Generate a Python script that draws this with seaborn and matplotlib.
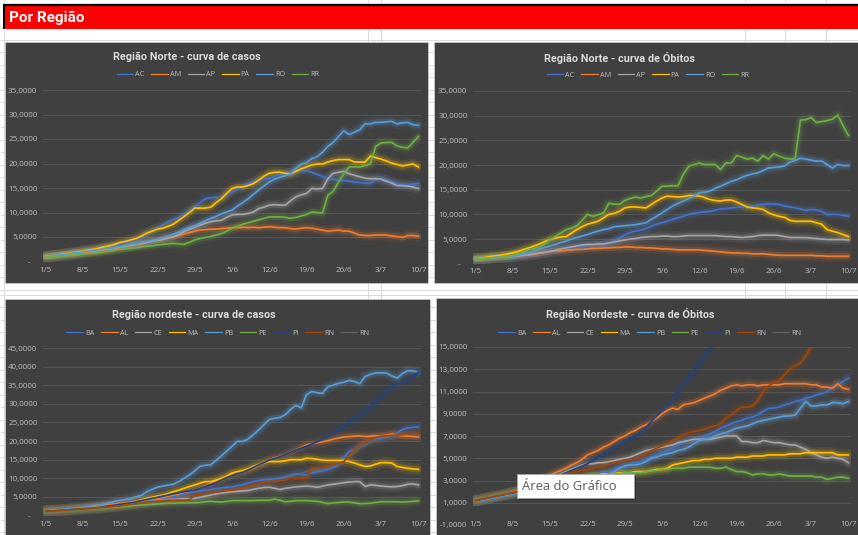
import matplotlib
matplotlib.use("Agg")
import matplotlib.pyplot as plt
import numpy as np
import pandas as pd
import seaborn as sns
from matplotlib.lines import Line2D
from matplotlib.patches import Rectangle
from matplotlib.ticker import FuncFormatter

W, H = 858, 535
TITLE_FONT = ['Roboto', 'Open Sans', 'DejaVu Sans']
SANS = ['Open Sans', 'DejaVu Sans']

DAYS = list(range(71))
TICK_POS = [0, 7, 14, 21, 28, 35, 42, 49, 56, 63, 70]
TICK_LABELS = ['1/5', '8/5', '15/5', '22/5', '29/5', '5/6', '12/6', '19/6', '26/6', '3/7', '10/7']

# ---------------- Região Norte - casos ----------------
N_CASOS_AC = [1.0, 1.1, 1.2, 1.4, 1.5, 1.7, 1.8, 2.0, 2.2, 2.4, 2.6, 2.8, 3.0, 3.2,
              3.5, 3.8, 4.1, 4.5, 5.0, 5.6, 6.2, 6.8, 7.5, 8.1, 8.6, 9.0, 9.7, 10.4,
              11.1, 12.0, 12.8, 13.0, 13.1, 13.0, 13.6, 14.2, 14.7, 15.3, 15.9, 16.3, 16.6, 16.8,
              16.9, 17.4, 17.8, 18.2, 18.3, 18.4, 18.5, 18.5, 18.2, 17.8, 17.3, 16.9, 16.8, 16.6,
              16.5, 16.4, 16.2, 16.1, 16.0, 15.9, 16.8, 16.8, 16.7, 16.3, 15.9, 15.5, 15.6, 15.8, 15.9]
N_CASOS_AM = [1.0, 1.1, 1.2, 1.3, 1.4, 1.5, 1.7, 1.8, 1.9, 2.0, 2.2, 2.3, 2.5, 2.6,
              2.8, 3.0, 3.2, 3.4, 3.6, 3.9, 4.2, 4.4, 4.6, 4.8, 5.1, 5.3, 5.6, 5.9,
              6.2, 6.4, 6.5, 6.6, 6.6, 6.7, 6.8, 6.9, 6.9, 7.0, 6.9, 7.0, 6.9, 7.0,
              7.1, 7.0, 6.9, 6.9, 6.7, 6.6, 6.8, 6.9, 6.8, 6.6, 6.4, 6.2, 6.3, 6.4,
              6.2, 6.2, 5.8, 5.4, 5.3, 5.3, 5.4, 5.4, 5.4, 5.2, 5.1, 4.9, 5.3, 5.3, 5.2]
N_CASOS_AP = [1.0, 1.1, 1.2, 1.3, 1.5, 1.6, 1.8, 2.0, 2.1, 2.2, 2.4, 2.5, 2.7, 2.8,
              3.0, 3.1, 3.3, 3.5, 3.7, 3.9, 4.1, 4.3, 4.5, 4.8, 5.0, 5.5, 6.1, 6.6,
              7.0, 7.4, 7.8, 8.1, 8.3, 8.4, 9.0, 9.5, 9.6, 9.6, 9.8, 10.1, 10.8, 11.1,
              11.5, 11.6, 11.5, 11.5, 12.4, 13.2, 13.6, 13.9, 14.9, 14.8, 14.9, 16.9, 18.0, 18.2,
              18.4, 17.9, 17.6, 17.3, 17.0, 16.9, 16.9, 16.8, 16.4, 16.0, 15.5, 15.5, 15.4, 15.2, 14.9]
N_CASOS_PA = [1.0, 1.1, 1.3, 1.5, 1.6, 1.8, 1.9, 2.1, 2.3, 2.5, 2.7, 3.0, 3.2, 3.5,
              3.9, 4.1, 4.4, 4.7, 5.2, 5.8, 6.2, 6.6, 6.8, 7.2, 7.6, 8.4, 9.2, 10.0,
              10.9, 10.9, 10.9, 11.1, 12.0, 12.8, 13.9, 14.9, 15.2, 15.2, 15.5, 15.9, 16.6, 17.4,
              18.0, 18.2, 18.2, 18.0, 17.9, 18.4, 18.9, 19.3, 19.7, 19.9, 19.9, 20.3, 20.6, 20.8,
              20.8, 20.8, 20.3, 20.3, 20.3, 21.5, 21.2, 20.9, 20.5, 20.1, 19.8, 19.5, 19.7, 19.9, 19.3]
N_CASOS_RO = [1.0, 1.1, 1.3, 1.4, 1.5, 1.7, 1.8, 2.0, 2.1, 2.3, 2.4, 2.6, 2.7, 2.9,
              3.0, 3.2, 3.4, 3.6, 3.9, 4.1, 4.3, 4.5, 4.8, 5.2, 5.6, 6.0, 6.5, 6.9,
              7.3, 7.8, 8.3, 8.8, 9.2, 9.7, 10.1, 10.5, 11.3, 12.0, 12.8, 13.7, 14.6, 15.4,
              16.2, 16.8, 17.2, 17.5, 17.9, 19.0, 19.9, 20.2, 21.0, 21.4, 22.3, 23.5, 24.3, 25.5,
              26.7, 25.9, 26.4, 26.9, 28.1, 28.1, 28.4, 28.4, 28.5, 28.6, 28.1, 28.3, 28.4, 27.9, 27.8]
N_CASOS_RR = [1.0, 1.0, 1.1, 1.2, 1.2, 1.3, 1.4, 1.5, 1.6, 1.7, 1.8, 2.0, 2.1, 2.3,
              2.5, 2.6, 2.7, 2.8, 3.0, 3.1, 3.2, 3.4, 3.5, 3.6, 3.7, 3.6, 3.5, 3.9,
              4.4, 4.7, 4.9, 5.1, 5.4, 5.7, 6.2, 6.8, 7.2, 7.6, 7.9, 8.2, 8.5, 8.8,
              9.1, 9.1, 9.1, 9.0, 8.8, 9.0, 9.3, 9.6, 10.1, 10.0, 9.9, 13.5, 14.3, 16.2,
              17.9, 19.3, 19.3, 19.3, 19.6, 19.9, 23.5, 24.2, 24.3, 24.3, 23.6, 23.3, 23.2, 24.3, 25.5]

# ---------------- Região Norte - óbitos ----------------
N_OBITOS_AC = [1.0, 1.0, 1.1, 1.2, 1.3, 1.3, 1.4, 1.5, 1.6, 1.7, 1.8, 1.9, 2.1, 2.3,
               2.5, 2.7, 2.8, 3.0, 3.2, 3.3, 3.5, 3.6, 3.7, 3.8, 3.9, 4.2, 4.6, 5.2,
               5.9, 6.3, 6.6, 6.8, 7.1, 7.6, 8.0, 8.3, 8.6, 9.0, 9.3, 9.6, 10.0, 10.2,
               10.4, 10.5, 10.6, 10.9, 11.1, 11.2, 11.3, 11.4, 11.5, 11.6, 11.7, 11.9, 12.0, 12.1,
               12.1, 12.0, 11.7, 11.5, 11.3, 11.1, 10.8, 11.0, 10.9, 10.6, 10.0, 10.0, 10.0, 9.8, 9.6]
N_OBITOS_AM = [1.0, 1.1, 1.1, 1.2, 1.3, 1.3, 1.4, 1.5, 1.6, 1.7, 1.8, 1.9, 2.1, 2.3,
               2.5, 2.6, 2.6, 2.7, 2.8, 2.9, 2.9, 3.0, 3.1, 3.1, 3.2, 3.2, 3.3, 3.3,
               3.4, 3.4, 3.3, 3.3, 3.2, 3.2, 3.1, 3.0, 3.0, 2.9, 2.8, 2.8, 2.8, 2.8,
               2.8, 2.7, 2.6, 2.5, 2.4, 2.3, 2.2, 2.2, 2.1, 2.1, 2.0, 2.0, 2.0, 1.9,
               1.8, 1.7, 1.7, 1.7, 1.7, 1.7, 1.7, 1.7, 1.6, 1.6, 1.5, 1.5, 1.5, 1.5, 1.5]
N_OBITOS_AP = [1.0, 1.0, 1.1, 1.2, 1.3, 1.3, 1.4, 1.5, 1.6, 1.7, 1.8, 2.0, 2.2, 2.3,
               2.5, 2.7, 3.0, 3.2, 3.4, 3.6, 3.8, 3.9, 3.9, 4.0, 4.0, 4.2, 4.4, 4.6,
               4.8, 5.0, 5.1, 5.3, 5.4, 5.5, 5.5, 5.6, 5.6, 5.5, 5.5, 5.6, 5.7, 5.7,
               5.7, 5.7, 5.7, 5.7, 5.6, 5.5, 5.5, 5.4, 5.3, 5.4, 5.5, 5.7, 5.8, 5.8,
               5.8, 5.7, 5.5, 5.3, 5.3, 5.3, 5.3, 5.2, 5.1, 5.0, 4.9, 4.9, 4.9, 4.9, 4.8]
N_OBITOS_PA = [1.0, 1.1, 1.3, 1.5, 1.6, 1.8, 2.0, 2.2, 2.5, 2.9, 3.2, 3.6, 4.0, 4.5,
               4.9, 5.2, 5.4, 5.5, 6.2, 6.9, 7.5, 8.0, 8.3, 8.6, 9.3, 10.0, 10.2, 10.6,
               11.3, 11.5, 11.5, 11.4, 11.3, 12.0, 12.7, 13.3, 13.7, 13.6, 13.5, 13.6, 13.8, 13.8,
               13.7, 13.4, 13.0, 12.8, 12.7, 12.9, 12.9, 12.5, 12.0, 11.5, 11.3, 11.2, 11.0, 10.3,
               9.9, 9.6, 9.4, 8.8, 8.6, 8.6, 8.6, 8.6, 8.3, 8.0, 6.9, 6.6, 6.3, 5.9, 5.5]
N_OBITOS_RO = [1.0, 1.0, 1.1, 1.2, 1.3, 1.4, 1.4, 1.5, 1.7, 1.9, 2.2, 2.6, 3.0, 3.3,
               3.6, 3.9, 4.3, 4.6, 5.0, 5.3, 5.6, 5.9, 6.3, 6.6, 6.9, 7.1, 7.5, 7.6,
               7.7, 7.8, 7.9, 8.1, 8.3, 9.0, 9.6, 10.3, 11.0, 11.7, 12.2, 12.7, 13.2, 13.7,
               14.4, 14.5, 14.7, 15.3, 15.7, 16.2, 16.7, 17.0, 17.5, 17.9, 18.2, 18.4, 18.9, 19.4,
               19.5, 19.6, 19.8, 20.6, 20.9, 21.4, 21.2, 21.0, 20.8, 20.8, 20.1, 19.4, 20.1, 19.9, 19.9]
N_OBITOS_RR = [1.0, 1.0, 1.1, 1.2, 1.3, 1.4, 1.5, 1.7, 2.0, 2.4, 2.9, 3.1, 3.4, 4.0,
               4.9, 5.5, 6.2, 6.9, 7.2, 7.7, 8.8, 10.0, 9.6, 9.9, 10.3, 12.2, 12.1, 12.0,
               12.8, 13.2, 13.5, 13.3, 13.6, 13.8, 14.7, 15.7, 15.7, 15.8, 15.8, 18.1, 19.7, 20.1,
               20.4, 20.1, 20.1, 20.1, 19.1, 20.4, 20.4, 21.9, 21.6, 21.2, 21.4, 20.8, 21.9, 21.2,
               22.3, 21.8, 21.4, 21.2, 21.3, 29.1, 29.2, 29.6, 28.6, 28.8, 29.0, 29.3, 30.1, 28.0, 26.0]

# ---------------- Região Nordeste - casos ----------------
NE_CASOS_BA = [1.2, 1.2, 1.3, 1.4, 1.5, 1.6, 1.7, 1.8, 1.9, 2.0, 2.1, 2.2, 2.4, 2.5,
               2.7, 2.9, 3.1, 3.3, 3.5, 3.8, 4.0, 4.2, 4.5, 4.8, 5.1, 5.4, 5.7, 6.1,
               6.4, 6.6, 6.8, 7.0, 7.2, 7.4, 7.6, 7.7, 8.0, 8.3, 8.7, 9.1, 9.4, 9.6,
               9.7, 9.9, 10.1, 10.3, 10.8, 11.2, 11.0, 10.9, 11.5, 11.7, 12.0, 12.3, 12.9, 13.6,
               15.5, 17.2, 17.8, 18.9, 19.9, 20.3, 20.6, 20.8, 21.0, 21.3, 22.2, 23.1, 23.5, 23.7, 23.8]
NE_CASOS_AL = [1.2, 1.3, 1.4, 1.5, 1.7, 1.8, 1.9, 2.0, 2.2, 2.4, 2.5, 2.7, 2.9, 3.1,
               3.3, 3.4, 3.6, 3.8, 4.0, 4.2, 4.4, 4.6, 4.9, 5.2, 5.5, 5.8, 6.2, 6.5,
               6.8, 7.4, 8.0, 8.6, 9.2, 9.8, 10.4, 10.9, 11.2, 11.7, 12.2, 12.7, 13.5, 14.3,
               15.0, 15.5, 15.9, 16.3, 17.0, 17.7, 18.3, 19.0, 19.3, 19.5, 19.8, 20.1, 20.5, 20.8,
               21.1, 21.2, 21.3, 21.4, 21.2, 21.3, 21.4, 21.4, 21.6, 21.9, 21.6, 21.4, 21.3, 21.2, 21.1]
NE_CASOS_CE = [1.2, 1.2, 1.3, 1.4, 1.5, 1.6, 1.7, 1.8, 1.9, 2.0, 2.1, 2.2, 2.4, 2.5,
               2.7, 2.9, 3.1, 3.3, 3.5, 3.7, 3.9, 4.1, 4.2, 4.3, 4.3, 4.4, 4.5, 4.5,
               4.6, 4.9, 5.2, 5.5, 5.8, 6.0, 6.2, 6.4, 6.5, 6.6, 6.7, 7.0, 7.3, 7.5,
               7.6, 7.3, 7.0, 7.3, 7.5, 7.7, 7.8, 7.9, 7.8, 7.6, 7.9, 8.2, 8.4, 8.6,
               8.8, 9.0, 9.1, 9.1, 7.8, 8.2, 8.1, 7.9, 7.8, 7.7, 7.8, 8.0, 8.4, 8.5, 8.2]
NE_CASOS_MA = [1.2, 1.3, 1.4, 1.5, 1.6, 1.7, 1.8, 1.9, 2.0, 2.1, 2.2, 2.4, 2.5, 2.6,
               2.8, 3.1, 3.4, 3.8, 4.2, 4.6, 4.9, 5.2, 5.5, 5.9, 6.4, 6.8, 7.3, 7.8,
               8.2, 8.7, 9.1, 9.1, 9.5, 10.0, 10.6, 11.4, 11.8, 12.1, 12.5, 13.2, 13.7, 14.1,
               14.5, 14.5, 14.5, 14.7, 15.0, 15.0, 15.0, 15.4, 15.3, 15.1, 14.9, 14.8, 14.8, 14.8,
               14.8, 14.5, 14.1, 13.6, 13.2, 13.3, 13.8, 14.2, 14.2, 14.1, 13.2, 12.9, 12.7, 12.5, 12.4]
NE_CASOS_PB = [1.2, 1.3, 1.5, 1.6, 1.8, 1.9, 2.0, 2.2, 2.4, 2.6, 2.8, 3.1, 3.4, 3.8,
               4.1, 4.3, 4.6, 5.0, 5.4, 6.4, 7.0, 7.6, 7.9, 8.2, 8.4, 9.1, 10.0, 10.9,
               12.0, 13.2, 13.5, 13.6, 14.8, 16.0, 17.3, 18.6, 19.9, 19.9, 20.5, 21.7, 23.0, 24.4,
               25.8, 26.1, 26.3, 27.1, 28.5, 29.6, 28.9, 32.5, 33.3, 33.0, 32.8, 34.6, 35.0, 35.5,
               35.8, 36.3, 36.0, 35.4, 37.3, 37.9, 38.3, 38.3, 38.3, 37.5, 36.9, 38.1, 38.9, 38.8, 38.5]
NE_CASOS_PE = [1.2, 1.2, 1.3, 1.4, 1.4, 1.5, 1.6, 1.7, 1.8, 1.9, 2.0, 2.1, 2.2, 2.3,
               2.4, 2.5, 2.6, 2.7, 2.8, 2.9, 3.0, 3.1, 3.2, 3.3, 3.3, 3.4, 3.4, 3.4,
               3.4, 3.5, 3.7, 3.8, 3.7, 3.6, 3.8, 4.0, 4.0, 4.0, 4.0, 4.0, 4.1, 4.1,
               4.1, 4.4, 4.1, 3.7, 3.8, 4.0, 4.0, 4.0, 3.9, 3.8, 3.5, 3.2, 3.4, 3.5,
               3.6, 3.6, 3.4, 3.2, 3.2, 3.3, 3.5, 3.7, 3.7, 3.7, 3.7, 3.6, 3.7, 3.8, 3.9]
NE_CASOS_PI = [1.2, 1.2, 1.3, 1.4, 1.5, 1.6, 1.7, 1.8, 1.9, 2.0, 2.2, 2.4, 2.6, 2.8,
               3.0, 3.2, 3.4, 3.7, 4.0, 4.3, 4.6, 4.9, 5.2, 5.5, 5.8, 6.1, 6.4, 6.6,
               6.8, 7.3, 7.8, 8.3, 8.8, 9.5, 10.2, 10.7, 11.2, 11.6, 12.2, 12.9, 13.6, 14.2,
               14.9, 15.3, 15.8, 16.3, 17.0, 17.6, 18.1, 18.6, 19.2, 19.8, 20.5, 21.3, 22.2, 23.1,
               24.0, 25.0, 26.0, 27.0, 28.0, 29.0, 30.5, 32.0, 33.3, 34.6, 35.2, 35.8, 36.4, 37.5, 38.5]
NE_CASOS_RN = [1.2, 1.2, 1.3, 1.4, 1.5, 1.6, 1.7, 1.8, 1.9, 2.0, 2.1, 2.2, 2.3, 2.5,
               2.6, 2.8, 3.0, 3.2, 3.4, 3.6, 3.8, 3.9, 4.0, 4.1, 4.1, 4.1, 4.1, 4.2,
               5.5, 5.7, 5.9, 6.1, 6.3, 6.5, 6.7, 6.8, 7.1, 7.4, 7.8, 8.2, 8.6, 8.9,
               9.1, 9.2, 9.4, 9.6, 10.0, 10.0, 10.0, 10.0, 12.7, 12.7, 12.9, 13.2, 13.6, 14.0,
               14.5, 16.0, 17.7, 18.9, 19.9, 20.4, 20.9, 21.3, 21.4, 21.5, 21.6, 21.7, 21.9, 22.0, 22.2]
NE_CASOS_RN2 = [1.2, 1.2, 1.3, 1.3, 1.4, 1.5, 1.6, 1.7, 1.8, 1.9, 2.0, 2.1, 2.3, 2.4,
                2.5, 2.7, 2.9, 3.1, 3.2, 3.4, 3.6, 3.8, 3.9, 4.0, 4.2, 4.3, 4.5, 4.7,
                5.0, 5.3, 5.5, 5.8, 6.0, 6.3, 6.5, 6.7, 6.9, 7.2, 7.6, 8.0, 8.5, 8.9,
                9.3, 9.5, 9.8, 10.2, 10.5, 10.9, 11.3, 11.8, 12.0, 12.2, 12.5, 12.9, 13.2, 13.9,
                14.8, 15.9, 17.0, 18.2, 19.0, 19.6, 20.1, 20.5, 20.9, 21.2, 21.4, 21.5, 21.7, 21.8, 21.9]

# ---------------- Região Nordeste - óbitos ----------------
NE_OBITOS_BA = [1.2, 1.2, 1.3, 1.4, 1.5, 1.6, 1.7, 1.8, 1.9, 2.0, 2.1, 2.2, 2.4, 2.5,
                2.6, 2.7, 2.8, 2.9, 3.0, 3.2, 3.3, 3.4, 3.5, 3.6, 3.7, 3.8, 4.0, 4.2,
                4.3, 4.5, 4.6, 4.7, 4.9, 5.1, 5.3, 5.5, 5.7, 5.9, 6.2, 6.4, 6.6, 6.7,
                6.8, 7.0, 7.2, 7.4, 7.7, 7.9, 8.1, 8.3, 8.4, 8.6, 8.7, 8.9, 9.2, 9.5,
                9.5, 9.6, 9.8, 9.9, 10.1, 10.2, 10.4, 10.5, 10.7, 10.8, 11.0, 11.3, 11.6, 11.9, 12.2]
NE_OBITOS_AL = [1.2, 1.3, 1.4, 1.5, 1.6, 1.7, 1.8, 1.9, 2.1, 2.3, 2.6, 2.8, 3.0, 3.3,
                3.5, 3.7, 3.9, 4.1, 4.4, 4.6, 4.9, 5.3, 5.5, 5.7, 6.0, 6.2, 6.5, 6.8,
                7.0, 7.3, 7.5, 7.8, 8.0, 8.3, 8.6, 9.0, 9.3, 9.5, 9.4, 9.8, 9.9, 10.0,
                10.2, 10.4, 10.6, 10.8, 11.1, 11.3, 11.5, 11.6, 11.5, 11.6, 11.6, 11.5, 11.6, 11.6,
                11.6, 11.6, 11.7, 11.7, 11.7, 11.7, 11.7, 11.6, 11.6, 11.4, 11.4, 11.3, 11.7, 11.3, 11.2]
NE_OBITOS_CE = [1.2, 1.3, 1.4, 1.5, 1.6, 1.7, 1.8, 1.9, 2.0, 2.2, 2.4, 2.6, 2.8, 3.0,
                3.2, 3.4, 3.6, 3.8, 4.0, 4.2, 4.4, 4.5, 4.5, 4.6, 4.6, 4.7, 4.8, 4.9,
                5.0, 5.1, 5.3, 5.5, 5.7, 5.8, 5.9, 6.0, 6.1, 6.2, 6.4, 6.5, 6.6, 6.7,
                6.7, 6.7, 6.7, 6.8, 6.9, 7.0, 7.0, 7.0, 6.5, 6.5, 6.4, 6.4, 6.6, 6.5,
                6.4, 6.4, 6.3, 6.2, 6.2, 6.0, 5.8, 5.5, 5.3, 5.1, 5.0, 5.1, 5.0, 4.9, 4.6]
NE_OBITOS_MA = [1.2, 1.3, 1.4, 1.5, 1.6, 1.7, 1.8, 1.9, 2.0, 2.1, 2.2, 2.3, 2.5, 2.6,
                2.7, 2.8, 2.9, 3.0, 3.1, 3.2, 3.3, 3.4, 3.5, 3.5, 3.6, 3.6, 3.6, 3.7,
                3.7, 3.7, 3.8, 3.8, 3.8, 3.9, 4.0, 4.0, 4.1, 4.4, 4.5, 4.6, 4.7, 4.8,
                4.8, 4.9, 4.9, 5.0, 5.0, 5.0, 5.0, 5.1, 5.1, 5.1, 5.2, 5.2, 5.2, 5.3,
                5.3, 5.3, 5.3, 5.4, 5.4, 5.4, 5.5, 5.5, 5.5, 5.5, 5.5, 5.5, 5.3, 5.3, 5.3]
NE_OBITOS_PB = [1.2, 1.2, 1.3, 1.4, 1.5, 1.6, 1.7, 1.8, 1.9, 2.0, 2.1, 2.2, 2.3, 2.4,
                2.5, 2.6, 2.7, 2.8, 2.9, 3.0, 3.1, 3.2, 3.3, 3.3, 3.4, 3.5, 3.8, 4.1,
                4.3, 4.4, 4.4, 4.5, 4.7, 5.0, 5.1, 5.3, 5.4, 5.5, 5.7, 5.8, 6.0, 6.3,
                6.6, 6.7, 6.8, 7.0, 7.2, 7.3, 7.5, 7.7, 7.8, 7.9, 8.1, 8.3, 8.4, 8.5,
                8.6, 8.7, 8.8, 8.8, 8.9, 9.5, 10.1, 9.7, 9.7, 9.8, 9.8, 10.0, 10.0, 9.9, 10.1]
NE_OBITOS_PE = [1.2, 1.3, 1.4, 1.5, 1.6, 1.7, 1.8, 1.9, 2.0, 2.1, 2.2, 2.3, 2.4, 2.5,
                2.6, 2.7, 2.8, 2.9, 3.0, 3.1, 3.2, 3.3, 3.4, 3.5, 3.5, 3.6, 3.6, 3.6,
                3.7, 3.7, 3.7, 3.7, 3.8, 3.9, 3.9, 4.0, 4.0, 4.1, 4.1, 4.1, 4.2, 4.2,
                4.2, 4.2, 4.2, 4.1, 4.1, 4.2, 4.0, 3.8, 3.8, 3.7, 3.5, 3.6, 3.6, 3.5,
                3.5, 3.6, 3.5, 3.4, 3.4, 3.4, 3.4, 3.4, 3.3, 3.3, 3.1, 3.2, 3.3, 3.3, 3.2]
NE_OBITOS_PI = [1.2, 1.3, 1.4, 1.5, 1.6, 1.7, 1.8, 1.9, 2.0, 2.2, 2.4, 2.6, 2.8, 3.0,
                3.1, 3.3, 3.5, 3.7, 3.9, 4.1, 4.3, 4.5, 4.8, 5.1, 5.3, 5.6, 5.9, 6.2,
                6.5, 6.8, 7.0, 7.4, 7.8, 8.3, 8.8, 9.3, 9.7, 10.3, 11.0, 11.6, 12.2, 12.8,
                13.5, 14.2, 14.8, 15.6, 16.3, 17.1, 17.6, 18.4, 18.9, 19.5, 20.3, 20.8, 21.4, 22.2,
                22.6, 23.5, 24.1, 24.5, 25.4, 25.8, 26.6, 27.0, 27.9, 28.3, 29.1, 29.6, 30.4, 30.8, 31.5]
NE_OBITOS_RN = [1.2, 1.3, 1.4, 1.5, 1.6, 1.7, 1.8, 1.9, 2.0, 2.2, 2.4, 2.6, 2.8, 3.0,
                3.1, 3.3, 3.4, 3.6, 3.7, 3.8, 3.9, 4.0, 4.1, 4.2, 4.3, 4.5, 4.6, 4.7,
                4.8, 4.9, 5.0, 5.1, 5.4, 5.7, 5.9, 6.1, 6.3, 6.6, 6.8, 7.1, 7.3, 7.4,
                7.5, 7.6, 7.8, 7.9, 8.1, 8.6, 8.9, 9.3, 9.6, 9.6, 9.7, 10.2, 11.0, 11.5,
                11.8, 12.0, 12.5, 13.0, 13.3, 13.6, 14.2, 15.0, 15.8, 16.5, 17.1, 17.9, 18.6, 19.2, 19.9]
NE_OBITOS_RN2 = [1.2, 1.2, 1.3, 1.4, 1.5, 1.6, 1.7, 1.8, 1.9, 2.0, 2.1, 2.2, 2.3, 2.4,
                 2.5, 2.6, 2.7, 2.8, 2.9, 3.0, 3.1, 3.2, 3.3, 3.3, 3.4, 3.5, 3.8, 4.1,
                 4.3, 4.4, 4.4, 4.5, 4.7, 5.0, 5.1, 5.3, 5.4, 5.5, 5.7, 5.8, 6.0, 6.3,
                 6.6, 6.7, 6.8, 7.0, 7.2, 7.3, 7.5, 7.7, 7.8, 7.9, 8.1, 8.3, 8.4, 8.5,
                 8.6, 8.7, 8.8, 8.8, 8.9, 9.5, 10.1, 9.7, 9.7, 9.8, 9.8, 10.0, 10.0, 9.9, 10.1]

NORTE_STATES = ['AC', 'AM', 'AP', 'PA', 'RO', 'RR']
NORTE_COLORS = ['#4472C4', '#ED7D31', '#A5A5A5', '#FFC000', '#5B9BD5', '#70AD47']
NE_KEYS = ['BA', 'AL', 'CE', 'MA', 'PB', 'PE', 'PI', 'RN', 'RN2']
NE_LABELS = ['BA', 'AL', 'CE', 'MA', 'PB', 'PE', 'PI', 'RN', 'RN']
NE_COLORS = ['#4472C4', '#ED7D31', '#A5A5A5', '#FFC000', '#5B9BD5', '#70AD47',
             '#264478', '#9E480E', '#636363']
NE_DRAW_ORDER = ['RN2', 'BA', 'AL', 'CE', 'MA', 'PB', 'PE', 'PI', 'RN']

norte_casos = dict(zip(NORTE_STATES, [N_CASOS_AC, N_CASOS_AM, N_CASOS_AP, N_CASOS_PA, N_CASOS_RO, N_CASOS_RR]))
norte_obitos = dict(zip(NORTE_STATES, [N_OBITOS_AC, N_OBITOS_AM, N_OBITOS_AP, N_OBITOS_PA, N_OBITOS_RO, N_OBITOS_RR]))
ne_casos = dict(zip(NE_KEYS, [NE_CASOS_BA, NE_CASOS_AL, NE_CASOS_CE, NE_CASOS_MA, NE_CASOS_PB,
                              NE_CASOS_PE, NE_CASOS_PI, NE_CASOS_RN, NE_CASOS_RN2]))
ne_obitos = dict(zip(NE_KEYS, [NE_OBITOS_BA, NE_OBITOS_AL, NE_OBITOS_CE, NE_OBITOS_MA, NE_OBITOS_PB,
                               NE_OBITOS_PE, NE_OBITOS_PI, NE_OBITOS_RN, NE_OBITOS_RN2]))
for d in (norte_casos, norte_obitos, ne_casos, ne_obitos):
    for k, v in d.items():
        assert len(v) == 71, (k, len(v))

fig = plt.figure(figsize=(W / 100, H / 100), dpi=100)
fig.patch.set_facecolor('white')


def px_rect(x0, y0, x1, y1):
    return [x0 / W, 1 - y1 / H, (x1 - x0) / W, (y1 - y0) / H]


# ---- spreadsheet background ----
bg = fig.add_axes([0, 0, 1, 1])
bg.set_xlim(0, W)
bg.set_ylim(H, 0)
bg.axis('off')
rows = [27 + 12.5 * k for k in range(22)] + [294.5 + 12.5 * k for k in range(20)]
bg.hlines(rows, 0, W, color='#D9D9D9', lw=0.7, zorder=0)
bg.vlines([3.5, 368, 381, 745, 785, 826], 0, H, color='#D9D9D9', lw=0.7, zorder=0)
bg.add_patch(Rectangle((3.5, 5), W - 3.5, 23.5, facecolor='#FF0000', edgecolor='none', zorder=2))
bg.plot([3, W], [5, 5], color='black', lw=1.6, zorder=3, solid_capstyle='butt')
bg.plot([3.5, 3.5], [5, 28.5], color='black', lw=1.4, zorder=3, solid_capstyle='butt')
bg.text(9, 17.5, 'Por Região', color='white', fontsize=11.0, fontweight='bold',
        family=TITLE_FONT, ha='left', va='center', zorder=4)

PANELS = [(5, 42, 428, 283), (434, 42, W, 283), (5, 299, 430, H), (436, 298, W, H)]
for (x0, y0, x1, y1) in PANELS:
    bg.add_patch(Rectangle((x0, y0), x1 - x0, y1 - y0, facecolor='#404040',
                           edgecolor='#D0D0D0', lw=0.5, zorder=5))

TITLES = [('Região Norte - curva de casos', 187, 57),
          ('Região Norte - curva de Óbitos', 620, 58),
          ('Região nordeste - curva de casos', 194, 315),
          ('Região Nordeste - curva de Óbitos', 630, 314)]
for t, x, y in TITLES:
    bg.text(x, y, t, color='#D9D9D9', fontsize=7.8, fontweight='bold', family=TITLE_FONT,
            ha='center', va='center', zorder=6)

LEGENDS = [(NORTE_STATES, NORTE_COLORS, 218, 74.5),
           (NORTE_STATES, NORTE_COLORS, 648, 75),
           (NE_LABELS, NE_COLORS, 218, 333),
           (NE_LABELS, NE_COLORS, 650, 333)]
for labels, colors, x, y in LEGENDS:
    handles = [Line2D([], [], color=c, lw=0.9) for c in colors]
    fig.legend(handles, labels, loc='center', bbox_to_anchor=(x, y), bbox_transform=bg.transData,
               ncol=len(labels), frameon=False, handlelength=2.3, handletextpad=0.3,
               columnspacing=0.9, borderpad=0, borderaxespad=0,
               prop={'family': SANS, 'size': 5.2}, labelcolor='#BFBFBF')


def fmt(v, pos):
    if abs(v) < 1e-9:
        return '-   '
    return f'{v:.4f}'.replace('.', ',')


def draw_panel(rect, data, keys, colors, order, ymin, ymax, step, xpad):
    ax = fig.add_axes(px_rect(*rect))
    ax.set_facecolor('none')
    df = pd.concat([pd.DataFrame({'day': DAYS, 'state': k, 'value': data[k]}) for k in keys],
                   ignore_index=True)
    pal = dict(zip(keys, colors))
    for lw, a in [(8.0, 0.09), (4.5, 0.20)]:
        sns.lineplot(data=df, x='day', y='value', hue='state', hue_order=order, palette=pal,
                     ax=ax, legend=False, linewidth=lw, alpha=a, estimator=None, sort=False,
                     solid_capstyle='round', solid_joinstyle='round')
    sns.lineplot(data=df, x='day', y='value', hue='state', hue_order=order, palette=pal,
                 ax=ax, legend=False, linewidth=1.25, estimator=None, sort=False)
    ax.set_xlim(-0.5, 70.5)
    ax.set_ylim(ymin, ymax)
    yt = np.arange(ymin, ymax + 0.001, step)
    ax.set_yticks(yt)
    ax.yaxis.set_major_formatter(FuncFormatter(fmt))
    ax.set_xticks(TICK_POS)
    ax.set_xticklabels(TICK_LABELS)
    ax.set_xlabel('')
    ax.set_ylabel('')
    for s in ax.spines.values():
        s.set_visible(False)
    for v in yt:
        if v > ymin + 1e-9:
            ax.axhline(v, color='#5A5A5A', lw=0.6, zorder=0)
    ax.tick_params(axis='both', length=0, labelsize=5.8, labelcolor='#BFBFBF')
    ax.tick_params(axis='y', pad=4)
    ax.tick_params(axis='x', pad=xpad)
    for lab in ax.get_xticklabels() + ax.get_yticklabels():
        lab.set_family(SANS)
    return ax


draw_panel((43, 90, 421, 261.5), norte_casos, NORTE_STATES, NORTE_COLORS, NORTE_STATES, 0, 35, 5, 4.3)
draw_panel((473, 91, 851, 263.7), norte_obitos, NORTE_STATES, NORTE_COLORS, NORTE_STATES, 0, 35, 5, 3.4)
draw_panel((43, 348, 421, 515.5), ne_casos, NE_KEYS, NE_COLORS, NE_DRAW_ORDER, 0, 45, 5, 4.3)
draw_panel((473, 347, 851, 525), ne_obitos, NE_KEYS, NE_COLORS, NE_DRAW_ORDER, -1, 15, 2, -3.0)

# ---- tooltip overlay ----
top = fig.add_axes([0, 0, 1, 1])
top.set_xlim(0, W)
top.set_ylim(H, 0)
top.axis('off')
top.set_facecolor('none')
top.add_patch(Rectangle((519, 476), 117, 24, facecolor='black', alpha=0.3, edgecolor='none', zorder=1))
top.add_patch(Rectangle((517, 474), 117, 24, facecolor='white', edgecolor='#A6A6A6', lw=0.6, zorder=2))
top.text(522, 486.5, 'Área do Gráfico', color='#595959', fontsize=9.4, family=SANS,
         ha='left', va='center', zorder=3)

fig.savefig('out.png', dpi=100, facecolor='white')
